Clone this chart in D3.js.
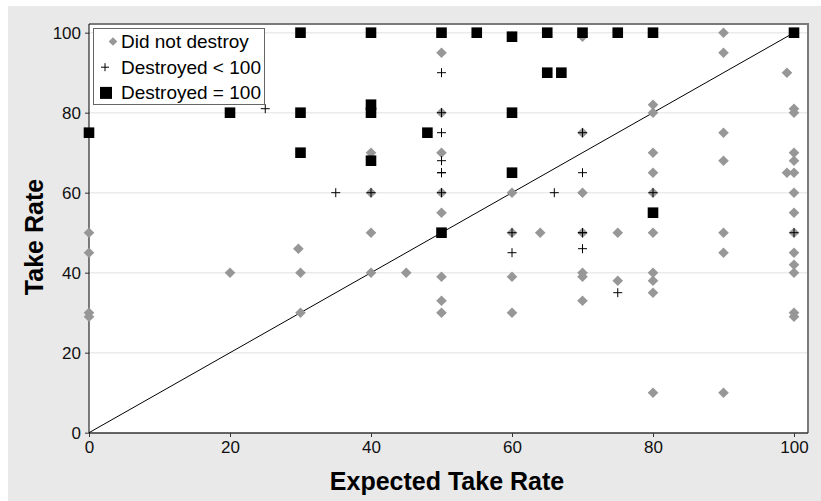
<!DOCTYPE html>
<html>
<head>
<meta charset="utf-8">
<script src="https://cdn.jsdelivr.net/npm/d3@7"></script>
<style>
  html, body { margin: 0; padding: 0; background: #fff; }
  svg { display: block; font-family: "Liberation Sans", Arial, sans-serif; }
</style>
</head>
<body>
<div id="chart"></div>
<script>
// values: [expected take rate, take rate]
const didNotDestroy = [
  [0, 50], [0, 45], [0, 30], [0, 29],
  [20, 40],
  [29.7, 46], [30, 40], [30, 30],
  [40, 70], [40, 60], [40, 50], [40, 40],
  [45, 40],
  [50, 95], [50, 80], [50, 70], [50, 60], [50, 55], [50, 39], [50, 33], [50, 30],
  [60, 60], [60, 50], [60, 39], [60, 30],
  [64, 50],
  [70, 99], [70, 75], [70, 60], [70, 50], [70, 40], [70, 39], [70, 33],
  [75, 50], [75, 38],
  [80, 82], [80, 80], [80, 70], [80, 65], [80, 60], [80, 50], [80, 40], [80, 38], [80, 35], [80, 10],
  [90, 100], [90, 95], [90, 75], [90, 68], [90, 50], [90, 45], [90, 10],
  [99, 90], [99, 65],
  [100, 81], [100, 80], [100, 70], [100, 68], [100, 65], [100, 60], [100, 55], [100, 50],
  [100, 45], [100, 42], [100, 40], [100, 30], [100, 29]
]
const destroyedLess = [
  [25, 81], [35, 60], [40, 60], [50, 90], [50, 80], [50, 75], [50, 68], [50, 65], [50, 65],
  [50, 60], [60, 50], [60, 45], [66, 60], [70, 75], [70, 65], [70, 50], [70, 50], [70, 46],
  [75, 35], [80, 60], [100, 50]
]
const destroyedAll = [
  [0, 75], [20, 80], [30, 100], [30, 80], [30, 70], [40, 100], [40, 82], [40, 80], [40, 68],
  [48, 75], [50, 100], [50, 50], [55, 100], [60, 99], [60, 80], [60, 65], [65, 100], [65, 90],
  [67, 90], [70, 100], [75, 100], [80, 100], [80, 55], [100, 100]
]
const legendLabels = ['Did not destroy', 'Destroyed < 100', 'Destroyed = 100']
const tickValues = [0, 20, 40, 60, 80, 100]

const W = 821, H = 501
const svg = d3.select('#chart').append('svg')
    .attr('width', W)
    .attr('height', H)

// grey panel
svg.append('rect')
    .attr('x', 8).attr('y', 6)
    .attr('width', W - 8).attr('height', H - 6)
    .attr('fill', '#e9e9e9')

const x = d3.scaleLinear().domain([0, 100]).range([89, 794])
const y = d3.scaleLinear().domain([0, 100]).range([432.7, 32.7])

const plot = { left: 89, right: 808, top: 24, bottom: 433 }

svg.append('rect')
    .attr('x', plot.left).attr('y', plot.top)
    .attr('width', plot.right - plot.left).attr('height', plot.bottom - plot.top)
    .attr('fill', '#fff')

// gridlines
svg.append('g')
    .selectAll('line')
    .data(tickValues.filter(d => d > 0))
    .enter().append('line')
      .attr('x1', plot.left).attr('x2', plot.right)
      .attr('y1', d => y(d)).attr('y2', d => y(d))
      .attr('stroke', '#ebebeb')
      .attr('stroke-width', 1.5)

// top and right frame
svg.append('path')
    .attr('d', `M${plot.left},${plot.top}H${plot.right}V${plot.bottom}`)
    .attr('fill', 'none')
    .attr('stroke', '#7a7a7a')
    .attr('stroke-width', 2)

// axes
const xAxis = d3.axisBottom(x).tickValues(tickValues).tickSize(4).tickPadding(4)
const yAxis = d3.axisLeft(y).tickValues(tickValues).tickSize(4).tickPadding(4)

const gx = svg.append('g')
    .attr('transform', `translate(0,${plot.bottom})`)
    .call(xAxis)
gx.select('.domain').remove()
gx.append('line')
    .attr('x1', plot.left).attr('x2', plot.right)
    .attr('stroke', '#333').attr('stroke-width', 1.5)

const gy = svg.append('g')
    .attr('transform', `translate(${plot.left},0)`)
    .call(yAxis)
gy.select('.domain').remove()
gy.append('line')
    .attr('y1', plot.top).attr('y2', plot.bottom)
    .attr('stroke', '#000').attr('stroke-width', 1)

svg.selectAll('.tick text')
    .attr('font-size', 17)
    .attr('font-family', '"Liberation Sans", Arial, sans-serif')
    .attr('fill', '#111')
svg.selectAll('.tick line').attr('stroke', '#333')

// axis titles
svg.append('text')
    .attr('x', 447).attr('y', 490)
    .attr('text-anchor', 'middle')
    .attr('font-size', 25).attr('font-weight', 'bold')
    .text('Expected Take Rate')

svg.append('text')
    .attr('transform', 'translate(43,237) rotate(-90)')
    .attr('text-anchor', 'middle')
    .attr('font-size', 25).attr('font-weight', 'bold')
    .text('Take Rate')

// identity line
svg.append('line')
    .attr('x1', x(0)).attr('y1', y(0))
    .attr('x2', x(100)).attr('y2', y(100))
    .attr('stroke', '#000').attr('stroke-width', 1)

const diamond = s => `M0,${-s}L${s},0L0,${s}L${-s},0Z`
const plus = s => `M${-s},0H${s}M0,${-s}V${s}`

svg.append('g')
    .selectAll('path')
    .data(didNotDestroy)
    .enter().append('path')
      .attr('transform', d => `translate(${x(d[0])},${y(d[1])})`)
      .attr('d', diamond(5.3))
      .attr('fill', '#979797')

svg.append('g')
    .selectAll('rect')
    .data(destroyedAll)
    .enter().append('rect')
      .attr('x', d => x(d[0]) - 5.3)
      .attr('y', d => y(d[1]) - 5.3)
      .attr('width', 10.6).attr('height', 10.6)
      .attr('fill', '#000')

svg.append('g')
    .selectAll('path')
    .data(destroyedLess)
    .enter().append('path')
      .attr('transform', d => `translate(${x(d[0])},${y(d[1])})`)
      .attr('d', plus(4.5))
      .attr('stroke', '#000')
      .attr('stroke-width', 1)
      .attr('fill', 'none')

// legend
const legend = svg.append('g')
legend.append('rect')
    .attr('x', 93.5).attr('y', 28.5)
    .attr('width', 171).attr('height', 76)
    .attr('fill', '#fff')
    .attr('stroke', '#666')
    .attr('stroke-width', 1)

const rows = legend.selectAll('g.row')
    .data(legendLabels)
    .enter().append('g')
      .attr('class', 'row')
      .attr('transform', (d, i) => `translate(0,${41.5 + i * 25.7})`)

rows.append('text')
    .attr('x', 121).attr('y', 6.5)
    .attr('font-size', 19)
    .attr('fill', '#000')
    .text(d => d)

rows.filter((d, i) => i === 0).append('path')
    .attr('transform', 'translate(113,0)')
    .attr('d', diamond(4.3))
    .attr('fill', '#979797')
rows.filter((d, i) => i === 1).append('path')
    .attr('transform', 'translate(105,0)')
    .attr('d', plus(4))
    .attr('stroke', '#000')
    .attr('fill', 'none')
rows.filter((d, i) => i === 2).append('rect')
    .attr('x', 100).attr('y', -6)
    .attr('width', 12).attr('height', 12)
    .attr('fill', '#000')
</script>
</body>
</html>
